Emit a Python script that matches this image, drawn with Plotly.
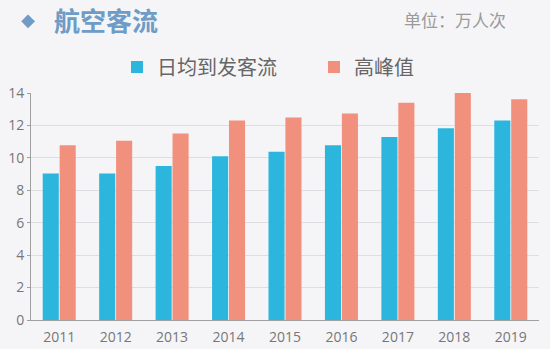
import plotly.graph_objects as go

years = ["2011", "2012", "2013", "2014", "2015", "2016", "2017", "2018", "2019"]
daily_flow = [9.03, 9.03, 9.5, 10.1, 10.37, 10.78, 11.28, 11.83, 12.3]
peak_flow = [10.78, 11.05, 11.5, 12.3, 12.49, 12.73, 13.4, 14.0, 13.62]
series_names = ["日均到发客流", "高峰值"]
title_text = "航空客流"
unit_text = "单位：万人次"

CJK = "Noto Sans CJK SC"
BLUE = "#2cb6dd"
ORANGE = "#f1907c"

W, H = 550, 349
ml, mr, mt, mb = 31, 11, 93, 29
pw, ph = W - ml - mr, H - mt - mb


def px_x(x):
    return (x - ml) / pw


def px_y(y):
    return (H - mb - y) / ph


fig = go.Figure()
fig.add_trace(go.Bar(x=years, y=daily_flow, name=series_names[0], marker=dict(color=BLUE, line=dict(width=0))))
fig.add_trace(go.Bar(x=years, y=peak_flow, name=series_names[1], marker=dict(color=ORANGE, line=dict(width=0))))

fig.update_layout(
    width=W, height=H,
    margin=dict(l=ml, r=mr, t=mt, b=mb, autoexpand=False),
    paper_bgcolor="#f5f5f7", plot_bgcolor="#f5f5f7",
    barmode="group", bargap=0.40, bargroupgap=0.05,
    font=dict(family=CJK, color="#777777"),
    showlegend=True,
    legend=dict(orientation="h", x=px_x(117), xanchor="left", y=px_y(67), yanchor="middle",
                font=dict(family=CJK, size=20, color="#666666"),
                bgcolor="rgba(0,0,0,0)", itemwidth=30, entrywidth=152, entrywidthmode="pixels",
                traceorder="normal", itemclick=False),
    xaxis=dict(showline=True, linecolor="#a0a0a0", linewidth=1, ticks="",
               ticklabelstandoff=4, automargin=False,
               tickfont=dict(family="Open Sans", size=14, color="#777777"), showgrid=False),
    yaxis=dict(range=[0, 14], dtick=2, showline=True, linecolor="#a0a0a0", linewidth=1,
               automargin=False,
               gridcolor="#dedee2", gridwidth=1, zeroline=False, ticks="outside", ticklen=3,
               tickcolor="#a0a0a0",
               tickfont=dict(family="Open Sans", size=14, color="#777777")),
    annotations=[
        dict(text="◆", x=px_x(28), y=px_y(20), xref="paper", yref="paper", xanchor="center", yanchor="middle",
             showarrow=False, font=dict(size=18, color="#6e9cc6", family="DejaVu Sans")),
        dict(text="<b>" + title_text + "</b>", x=px_x(52), y=px_y(20), xref="paper", yref="paper",
             xanchor="left", yanchor="middle",
             showarrow=False, font=dict(size=26, color="#6e9cc6", family=CJK)),
        dict(text=unit_text, x=px_x(508), y=px_y(20), xref="paper", yref="paper",
             xanchor="right", yanchor="middle",
             showarrow=False, font=dict(size=17, color="#9a9a9a", family=CJK)),
    ],
)

fig.write_html("out.html")
